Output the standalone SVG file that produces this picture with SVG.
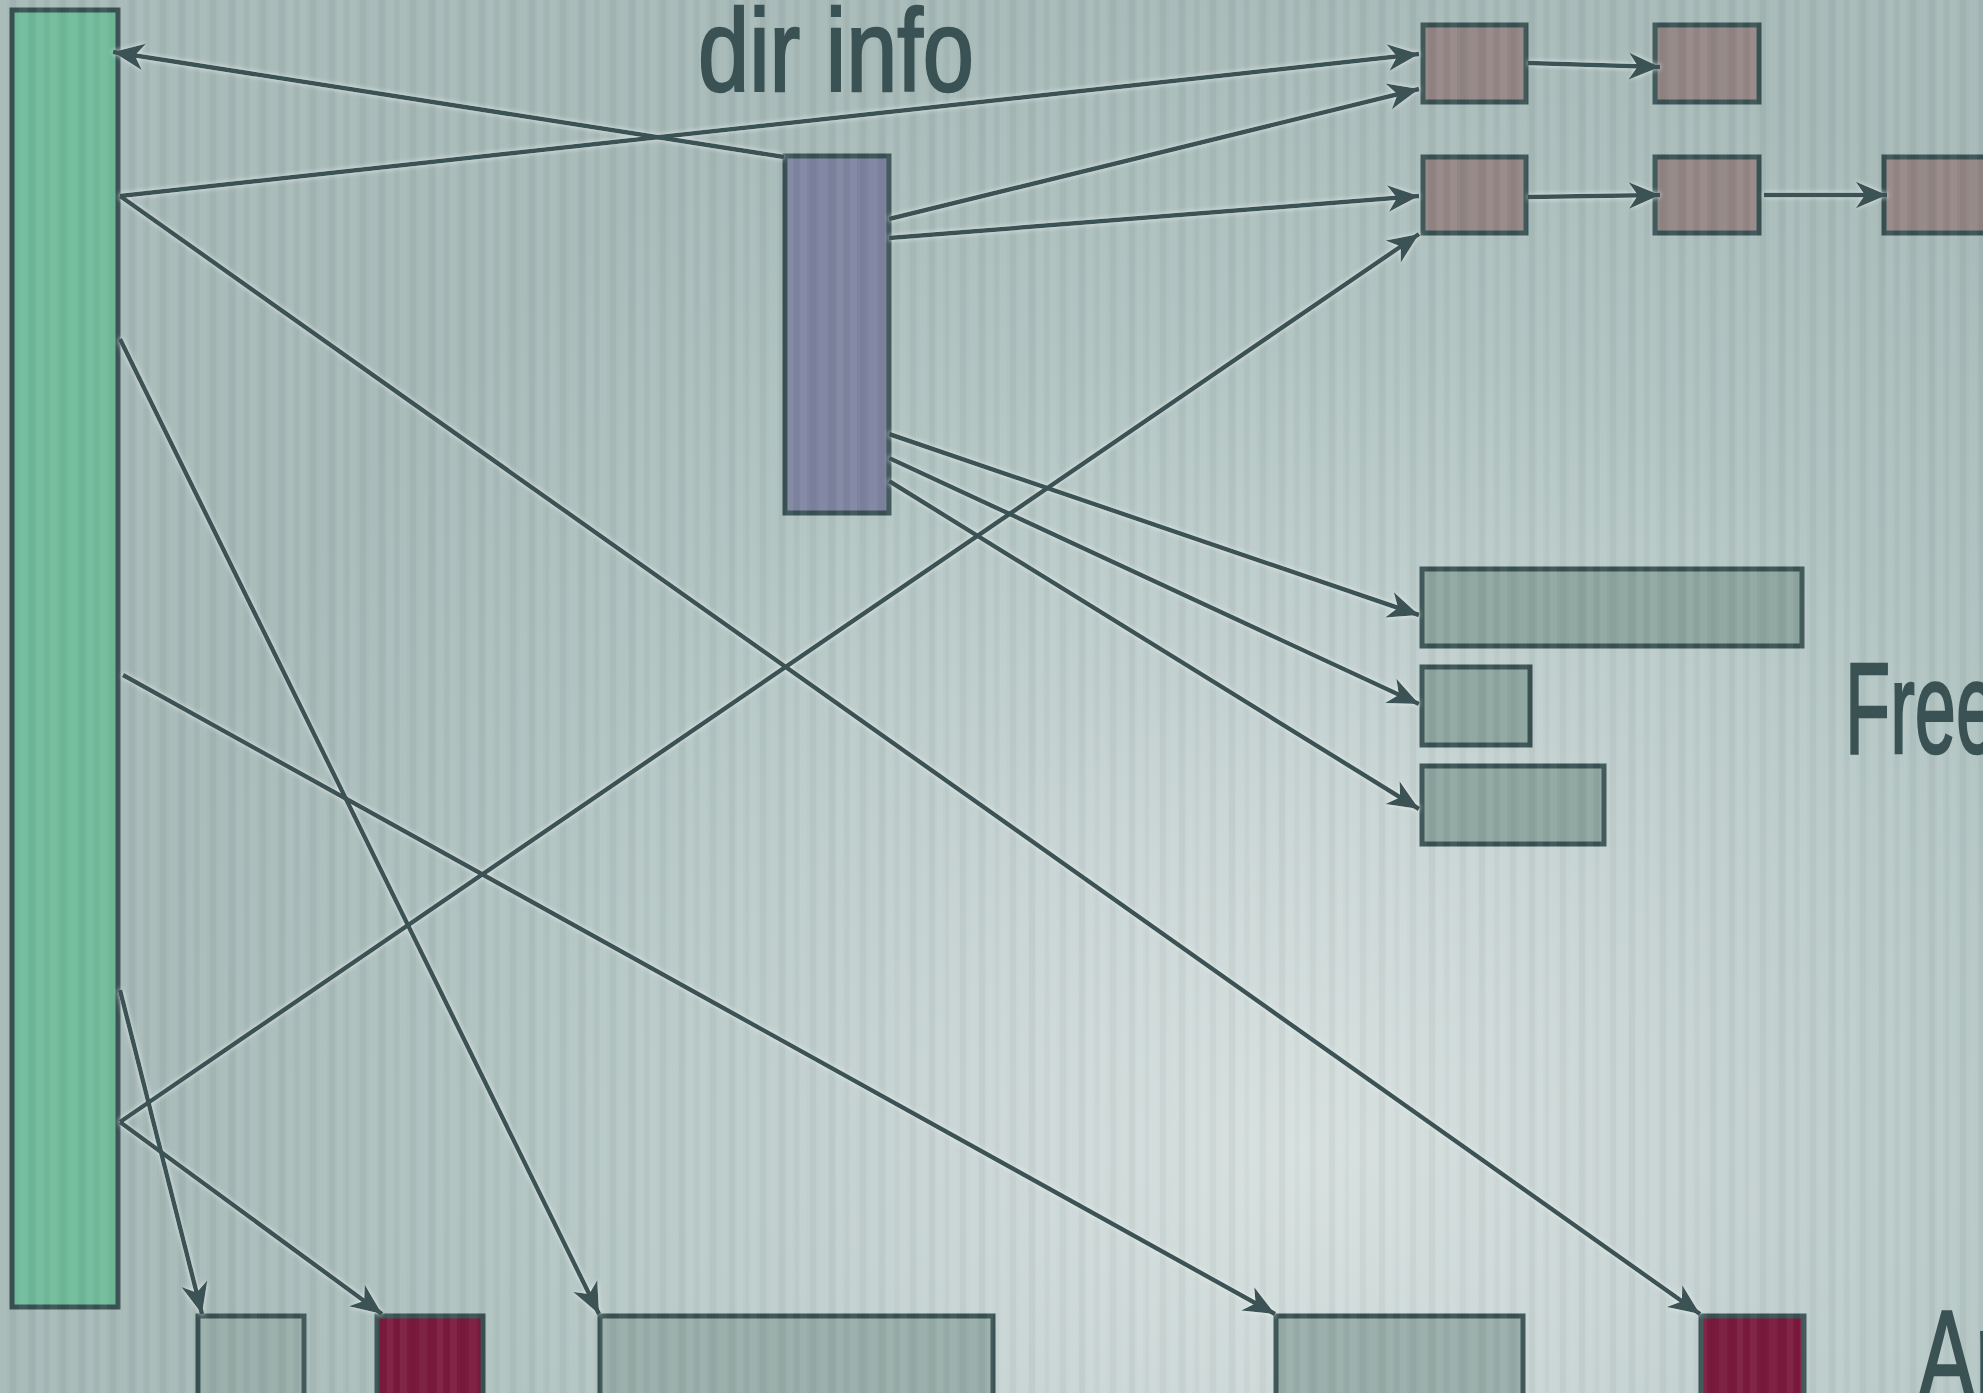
<svg xmlns="http://www.w3.org/2000/svg" width="1983" height="1393" viewBox="0 0 1983 1393">
<style>
.n{stroke:#3a5254;stroke-width:5}
.green{fill:#70bb9a}
.purple{fill:#7e84a0}
.brown{fill:#938684}
.tile{fill:#8ea59f}
.tileb{fill:#98ada9}
.red{fill:#7a1a3c}
.c line{stroke:#3a5254;stroke-width:4.5;marker-end:url(#ah)}
.t{fill:#3a5254;stroke:#3a5254;stroke-width:2.5;font-family:"Liberation Sans","DejaVu Sans Condensed",sans-serif}
</style>
<defs>
<radialGradient id="bg" cx="1300" cy="1150" r="1150" gradientUnits="userSpaceOnUse">
<stop offset="0" stop-color="#d6e0df"/>
<stop offset="0.3" stop-color="#c8d5d4"/>
<stop offset="0.7" stop-color="#b0c3c1"/>
<stop offset="1" stop-color="#a6b9b7"/>
</radialGradient>
<pattern id="stripes" width="50" height="10" patternUnits="userSpaceOnUse">
<rect x="0" y="0" width="7" height="10" fill="#fff" opacity="0.05"/>
<rect x="10" y="0" width="6" height="10" fill="#000" opacity="0.03"/>
<rect x="19" y="0" width="8" height="10" fill="#fff" opacity="0.04"/>
<rect x="29" y="0" width="6" height="10" fill="#000" opacity="0.035"/>
<rect x="37" y="0" width="6" height="10" fill="#fff" opacity="0.05"/>
<rect x="45" y="0" width="4" height="10" fill="#000" opacity="0.02"/>
</pattern>
<marker id="ah" markerUnits="userSpaceOnUse" markerWidth="40" markerHeight="40" viewBox="-32 -16 36 32" refX="0" refY="0" orient="auto">
<path d="M0,0 L-28,-12 L-20,0 L-28,12 Z" fill="#3a5254"/>
</marker>
<filter id="glow" x="-5%" y="-5%" width="110%" height="110%">
<feGaussianBlur in="SourceAlpha" stdDeviation="2.5" result="b"/>
<feFlood flood-color="#eef4f3" flood-opacity="0.85"/>
<feComposite in2="b" operator="in" result="g"/>
<feMerge><feMergeNode in="g"/><feMergeNode in="SourceGraphic"/></feMerge>
</filter>
</defs>
<rect width="1983" height="1393" fill="url(#bg)"/>

<g id="nodes">
<g id="n-green"><rect class="n green" x="12" y="10" width="106" height="1297"/></g>
<g id="n-purple"><rect class="n purple" x="785" y="156" width="104" height="357"/></g>
<g id="n-b11"><rect class="n brown" x="1423" y="25" width="103" height="77"/></g>
<g id="n-b12"><rect class="n brown" x="1655" y="25" width="104" height="77"/></g>
<g id="n-b21"><rect class="n brown" x="1423" y="157" width="103" height="76"/></g>
<g id="n-b22"><rect class="n brown" x="1655" y="157" width="104" height="76"/></g>
<g id="n-b23"><rect class="n brown" x="1884" y="157" width="110" height="76"/></g>
<g id="n-g1"><rect class="n tile" x="1422" y="569" width="380" height="77"/></g>
<g id="n-g2"><rect class="n tile" x="1422" y="667" width="108" height="78"/></g>
<g id="n-g3"><rect class="n tile" x="1422" y="766" width="182" height="78"/></g>
<g id="n-s1"><rect class="n tileb" x="198" y="1316" width="106" height="90"/></g>
<g id="n-r1"><rect class="n red" x="377" y="1316" width="106" height="90"/></g>
<g id="n-s2"><rect class="n tileb" x="600" y="1316" width="393" height="90"/></g>
<g id="n-s3"><rect class="n tileb" x="1276" y="1316" width="247" height="90"/></g>
<g id="n-r2"><rect class="n red" x="1701" y="1316" width="103" height="90"/></g>
</g>

<rect width="1983" height="1393" fill="url(#stripes)"/>

<g id="connectors" class="c" filter="url(#glow)">
<line x1="784" y1="157" x2="113" y2="52"/>
<line x1="120" y1="196" x2="1419" y2="54"/>
<line x1="889" y1="219" x2="1419" y2="89"/>
<line x1="889" y1="238" x2="1419" y2="196"/>
<line x1="120" y1="196" x2="1700" y2="1314"/>
<line x1="120" y1="339" x2="599" y2="1314"/>
<line x1="123" y1="675" x2="1275" y2="1314"/>
<line x1="120" y1="990" x2="202" y2="1314"/>
<line x1="120" y1="1122" x2="1419" y2="234"/>
<line x1="120" y1="1122" x2="382" y2="1314"/>
<line x1="889" y1="434" x2="1419" y2="615"/>
<line x1="889" y1="458" x2="1419" y2="704"/>
<line x1="889" y1="481" x2="1419" y2="809"/>
<line x1="1528" y1="63" x2="1660" y2="67"/>
<line x1="1528" y1="197" x2="1660" y2="195"/>
<line x1="1764" y1="195" x2="1887" y2="195"/>
</g>

<g id="labels">
<text class="t" x="698" y="91" font-size="116" textLength="276" lengthAdjust="spacingAndGlyphs">dir info</text>
<text class="t" x="1845" y="753" font-size="130" textLength="152" lengthAdjust="spacingAndGlyphs">Free</text>
<text class="t" x="1918" y="1401" font-size="130" textLength="86" lengthAdjust="spacingAndGlyphs">Ar</text>
</g>
</svg>
